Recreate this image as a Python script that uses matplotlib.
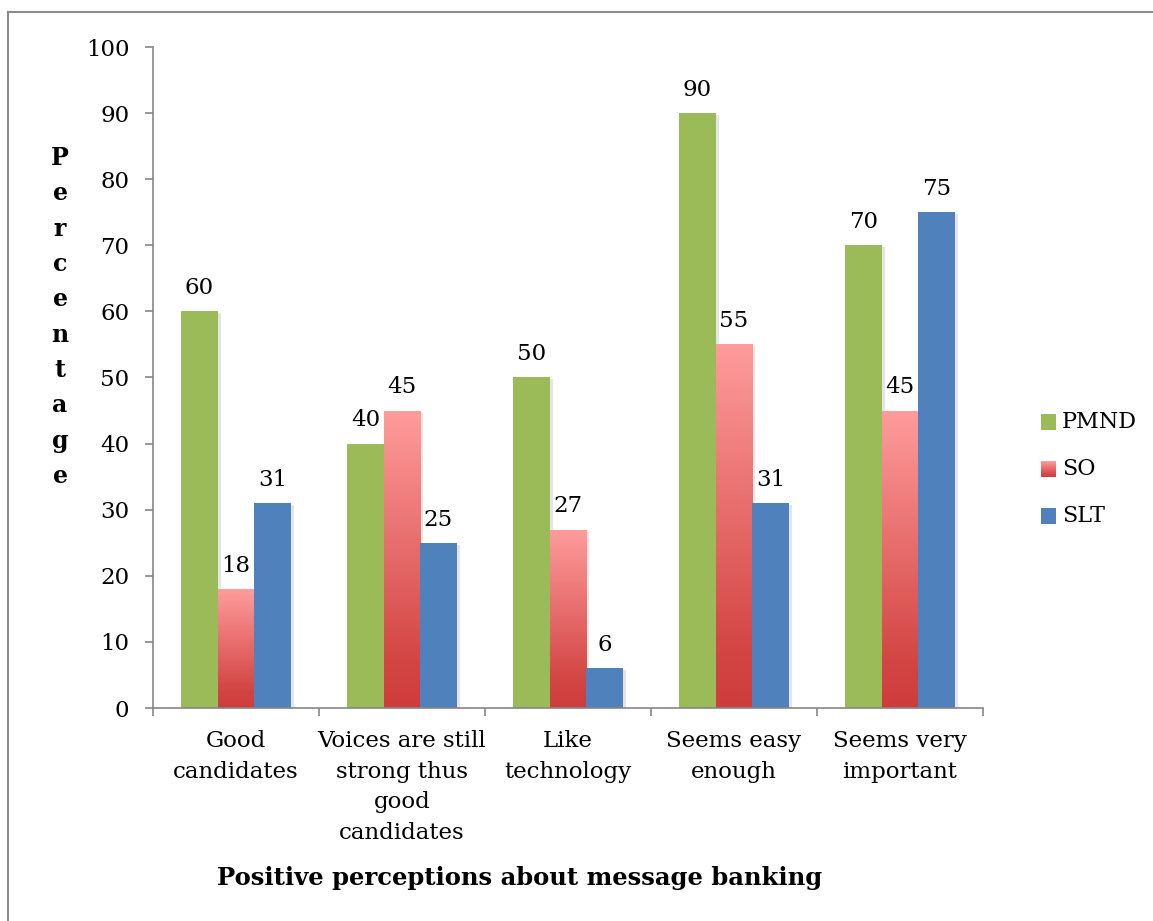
import matplotlib.pyplot as plt
import numpy as np
from matplotlib.patches import Rectangle
from matplotlib.lines import Line2D
from matplotlib.colors import LinearSegmentedColormap
import matplotlib.transforms as mtransforms

categories = ["Good\ncandidates",
              "Voices are still\nstrong thus\ngood\ncandidates",
              "Like\ntechnology",
              "Seems easy\nenough",
              "Seems very\nimportant"]
series_names = ["PMND", "SO", "SLT"]
pmnd = [60, 40, 50, 90, 70]
so = [18, 45, 27, 55, 45]
slt = [31, 25, 6, 31, 75]

green = "#9BBB59"
blue = "#4F81BD"
grey = "#868686"
# SO bars fade from red at the base to pink at the top
so_cmap = LinearSegmentedColormap.from_list(
    "so", [(0, "#CF3D3B"), (0.15, "#D24543"), (1, "#FF9C9C")])

plt.rcParams['font.family'] = ['DejaVu Serif']

W, H = 1153, 921
fig = plt.figure(figsize=(W / 100, H / 100), dpi=100)
ax = fig.add_axes([153 / W, 1 - 708 / H, 830 / W, 661 / H])

x = np.arange(len(categories))
bw = 0.22
shadow = ax.transData + mtransforms.ScaledTranslation(3 / 100, -2 / 100, fig.dpi_scale_trans)


def draw_bars(xs, vals, color=None):
    for xi, v in zip(xs, vals):
        sh = Rectangle((xi - bw / 2, 0), bw, v, facecolor="#000000", alpha=0.10,
                       lw=0, transform=shadow, zorder=1)
        ax.add_patch(sh)
        if color is not None:
            ax.add_patch(Rectangle((xi - bw / 2, 0), bw, v, facecolor=color, lw=0, zorder=2))
        else:
            r = Rectangle((xi - bw / 2, 0), bw, v, facecolor="none", lw=0, zorder=2)
            ax.add_patch(r)
            grad = np.linspace(0, 1, 256).reshape(-1, 1)
            im = ax.imshow(grad, cmap=so_cmap, origin="lower", aspect="auto",
                           extent=[xi - bw / 2, xi + bw / 2, 0, v], zorder=2)
            im.set_clip_path(r)
        ax.text(xi, v + 2.6, str(v), ha="center", va="baseline", fontsize=16.5, zorder=3)


draw_bars(x - bw, pmnd, green)
draw_bars(x, so)
draw_bars(x + bw, slt, blue)

ax.set_xlim(-0.5, len(categories) - 0.5)
ax.set_ylim(0, 100)
ax.set_yticks(np.arange(0, 101, 10))
ax.tick_params(axis="y", direction="out", length=6, width=1.2, color=grey,
               labelsize=16.5, pad=11)
ax.set_xticks(np.arange(-0.5, len(categories), 1))
ax.set_xticklabels([])
ax.set_xticks(x, minor=True)
ax.set_xticklabels(categories, minor=True, fontsize=16.5, linespacing=1.5)
ax.tick_params(axis="x", which="major", direction="out", length=6, width=1.2, color=grey)
ax.tick_params(axis="x", which="minor", length=0, pad=16)
for s in ["top", "right"]:
    ax.spines[s].set_visible(False)
for s in ["left", "bottom"]:
    ax.spines[s].set_color(grey)
    ax.spines[s].set_linewidth(1.2)

# vertical stacked axis label
fig.text(60 / W, 1 - 317 / H, "\n".join("Percentage"), ha="center", va="center",
         fontsize=17, fontweight="bold", linespacing=1.6)
fig.text(520 / W, 1 - 878 / H, "Positive perceptions about message banking",
         ha="center", va="center", fontsize=17.5, fontweight="bold")

# legend
for i, name in enumerate(series_names):
    top = 414 + i * 47
    if name == "SO":
        lax = fig.add_axes([1041 / W, 1 - (top + 16) / H, 15 / W, 16 / H])
        lax.imshow(np.linspace(0, 1, 64).reshape(-1, 1), cmap=so_cmap, origin="lower",
                   aspect="auto")
        lax.axis("off")
    else:
        fig.add_artist(Rectangle((1041 / W, 1 - (top + 16) / H), 15 / W, 16 / H,
                                 transform=fig.transFigure,
                                 facecolor=green if name == "PMND" else blue, lw=0))
    fig.text(1062 / W, 1 - (top + 8) / H, name, ha="left", va="center", fontsize=16)

# outer frame
fig.add_artist(Line2D([8 / W, 8 / W], [0, 1 - 12 / H], color="#8C8C8C", lw=1.5))
fig.add_artist(Line2D([8 / W, 1], [1 - 12 / H, 1 - 12 / H], color="#8C8C8C", lw=1.5))

fig.savefig("out.png", dpi=100)
